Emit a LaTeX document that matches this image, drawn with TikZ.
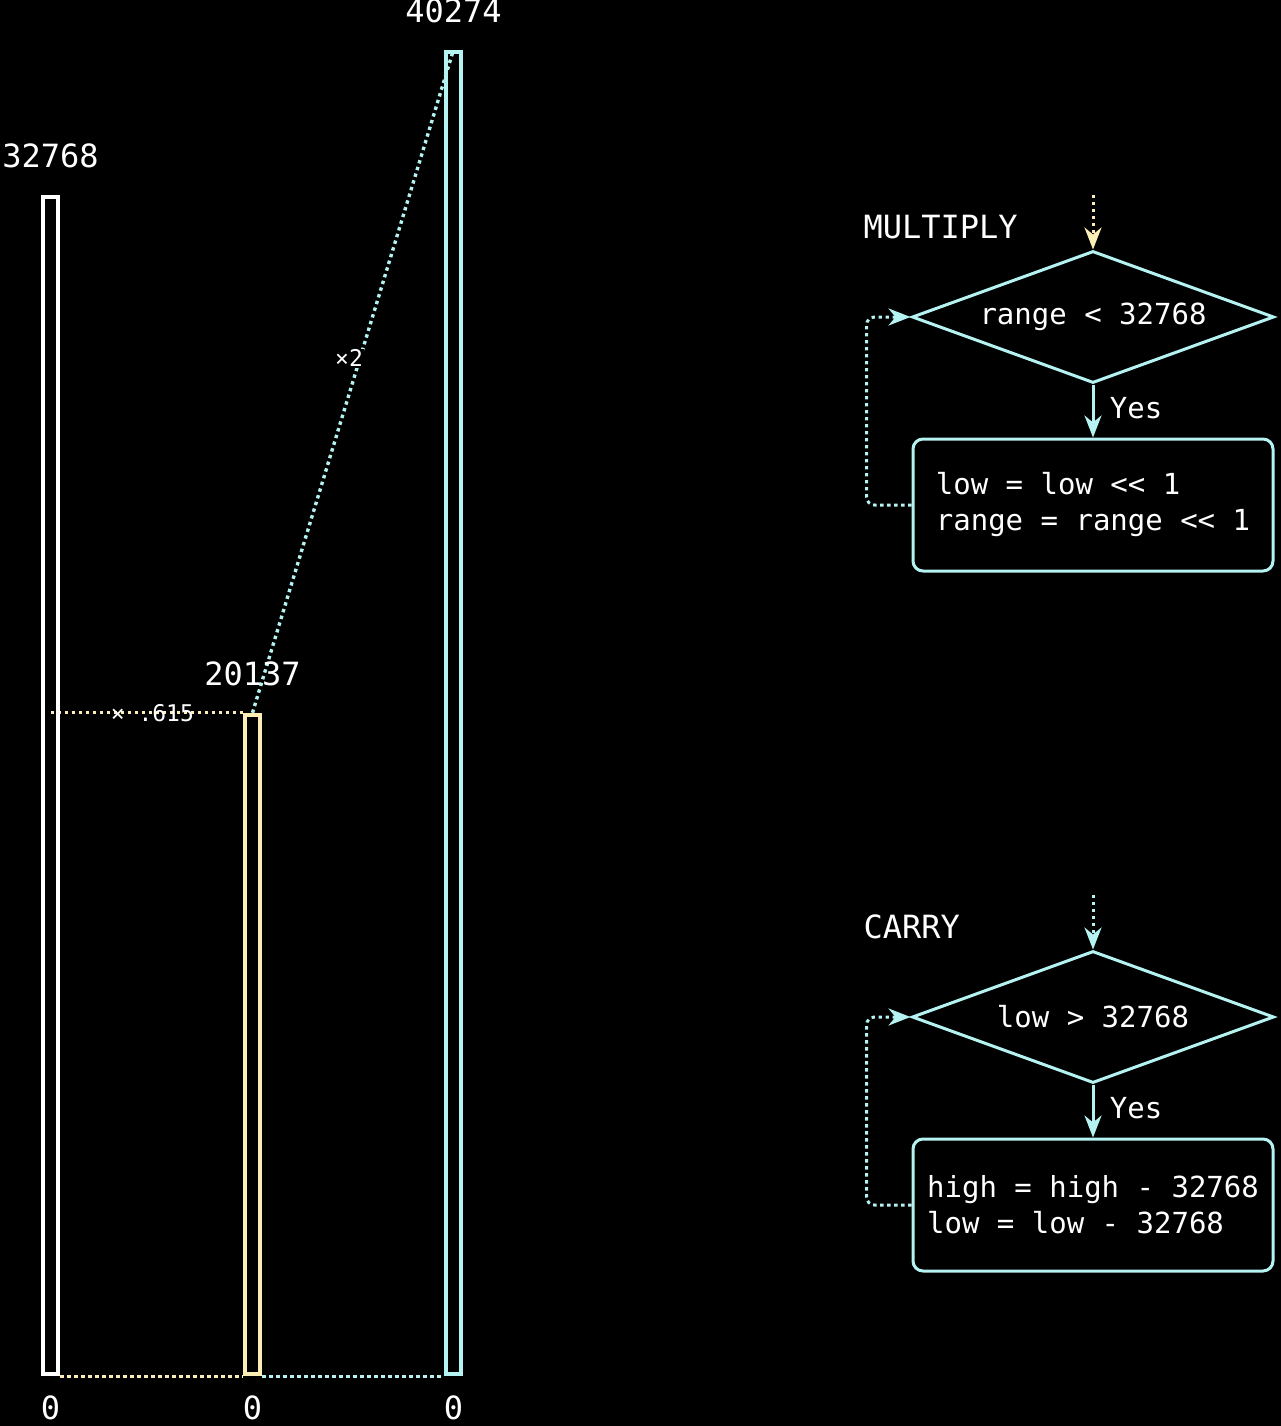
\documentclass[tikz,border=0pt]{standalone}
\usepackage{fontspec}
\setmonofont{DejaVu Sans Mono}
\usepackage{tikz}
\usetikzlibrary{shapes.geometric,positioning,arrows.meta}
\definecolor{barcyan}{HTML}{B5F2F2}
\definecolor{baryellow}{HTML}{FCEDB4}
\pgfdeclarelayer{behind}
\pgfsetlayers{behind,main}
\tikzset{
  bar/.style={draw, line width=4.5pt, minimum width=15pt, inner sep=0pt},
  dotline/.style={line width=3.4pt, dash pattern=on 3.4pt off 3.6pt},
  bignum/.style={font=\ttfamily\fontsize{32}{38}\selectfont, text=white, anchor=base},
  smallnum/.style={font=\ttfamily\fontsize{23}{28}\selectfont, text=white, inner sep=1pt},
  flowtext/.style={font=\ttfamily\fontsize{29}{36}\selectfont, text=white},
  decision/.style={diamond, aspect=2.74, draw=barcyan, line width=3pt, minimum width=362pt, minimum height=132pt, inner sep=0pt, flowtext},
  process/.style={rectangle, rounded corners=10pt, draw=barcyan, line width=3pt, minimum width=360pt, minimum height=132pt, align=left, flowtext},
  flowarrow/.style={-{Stealth[length=22pt,width=17pt,inset=7pt]}, line width=3pt},
}

\begin{document}
\begin{tikzpicture}[x=1pt,y=-1pt]
    \useasboundingbox (0,0) rectangle (1281,1426);
    \begin{pgfonlayer}{behind}
        \fill[black] (0,0) rectangle (1281,1426);
    \end{pgfonlayer}

    % Bars
    \node[bar, draw=white, minimum height=1177pt] (wbar) at (50.5,785.5) {};
    \node[bar, draw=baryellow, minimum height=659pt] (ybar) at (252.5,1044.5) {};
    \node[bar, draw=barcyan, minimum height=1322pt] (cbar) at (453.5,713) {};

    % Values
    \node[bignum] (wtop) at (50.5,167) {32768};
    \node[bignum] (ytop) at (252.5,685) {20137};
    \node[bignum] (ctop) at (453.5,23) {40274};
    \node[bignum] (wzero) at (50.5,1419) {0};
    \node[bignum] (yzero) at (252.5,1419) {0};
    \node[bignum] (czero) at (453.5,1419) {0};

    % Scaling lines
    \begin{pgfonlayer}{behind}
        \draw[dotline, baryellow] (wbar.center |- ybar.north) -- node[smallnum, pos=0.53] {× .615} (ybar.north west);
        \draw[dotline, barcyan] (ybar.north) -- node[smallnum, pos=0.535, xshift=-11pt, fill=black] {×2} (cbar.north);
        \draw[dotline, baryellow] (wbar.south east) -- (ybar.south west);
        \draw[dotline, barcyan] (ybar.south east) -- (cbar.south west);
    \end{pgfonlayer}

    % Multiply loop
    \node[bignum, anchor=base west] (mtitle) at (860,238) {MULTIPLY};
    \node[decision] (mdec) at (1093,317) {range < 32768};
    \node[process, below=53pt of mdec] (mbox) {low = low << 1\\range = range << 1};
    \coordinate (min) at (1093,195);
    \draw[dotline, flowarrow, baryellow] (min) -- (mdec.north);
    \draw[flowarrow, barcyan] (mdec.south) -- node[flowtext, right=12pt, yshift=3pt] {Yes} (mbox.north);
    \draw[dotline, flowarrow, barcyan, rounded corners=8pt] (mbox.west) -- ++(-45,0) |- (mdec.west);

    % Carry loop
    \node[bignum, anchor=base west] (ctitle) at (860,938) {CARRY};
    \node[decision] (cdec) at (1093,1017) {low > 32768};
    \node[process, below=53pt of cdec] (cbox) {high = high - 32768\\low = low - 32768};
    \coordinate (cin) at (1093,895);
    \draw[dotline, flowarrow, barcyan] (cin) -- (cdec.north);
    \draw[flowarrow, barcyan] (cdec.south) -- node[flowtext, right=12pt, yshift=3pt] {Yes} (cbox.north);
    \draw[dotline, flowarrow, barcyan, rounded corners=8pt] (cbox.west) -- ++(-45,0) |- (cdec.west);
\end{tikzpicture}
\end{document}
